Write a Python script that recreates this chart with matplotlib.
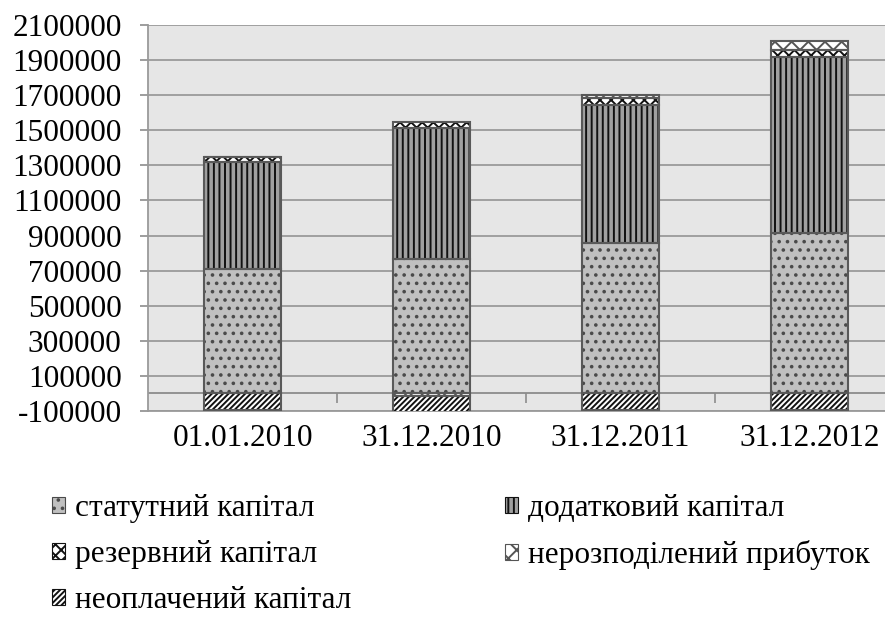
import numpy as np
import matplotlib
matplotlib.use("Agg")
import matplotlib.pyplot as plt
from matplotlib.patches import Patch

plt.rcParams['font.family'] = ['Liberation Serif', 'DejaVu Serif']
plt.rcParams['hatch.linewidth'] = 1.4

categories = ['01.01.2010', '31.12.2010', '31.12.2011', '31.12.2012']
statutory = [710000, 765000, 855000, 915000]
additional = [610000, 750000, 790000, 1000000]
reserve = [30000, 30000, 40000, 40000]
retained = [0, -15000, 15000, 55000]
unpaid = [-95000, -110000, -95000, -95000]

series_labels = ['статутний капітал', 'додатковий капітал', 'резервний капітал',
                 'нерозподілений прибуток', 'неоплачений капітал']
series = [statutory, additional, reserve, retained, unpaid]
styles = [
    dict(face='#c0c0c0', hcol='#4a4a4a', hatch='..'),
    dict(face='#a0a0a0', hcol='#111111', hatch='|||'),
    dict(face='#ffffff', hcol='#111111', hatch='xxx'),
    dict(face='#ffffff', hcol='#555555', hatch='xx'),
    dict(face='#ffffff', hcol='#111111', hatch='//////'),
]

W, H = 885, 619
fig = plt.figure(figsize=(W / 100, H / 100), dpi=100)
ax = fig.add_axes([148 / W, (H - 411) / H, (904 - 148) / W, (411 - 25) / H])
ax.set_facecolor('#e6e6e6')

x = np.arange(len(categories))
width = 0.41
pos_base = np.zeros(len(categories))
neg_base = np.zeros(len(categories))
edge = '#595959'
for vals, st in zip(series, styles):
    v = np.array(vals, dtype=float)
    bottoms = np.where(v >= 0, pos_base, neg_base)
    ax.bar(x, v, width, bottom=bottoms, color=st['face'], edgecolor=st['hcol'],
           hatch=st['hatch'], linewidth=0, zorder=3)
    ax.bar(x, v, width, bottom=bottoms, fill=False, edgecolor=edge,
           linewidth=1.5, zorder=4)
    pos_base = pos_base + np.where(v > 0, v, 0)
    neg_base = neg_base + np.where(v < 0, v, 0)

ax.set_xlim(-0.5, len(categories) - 0.5)
ax.set_ylim(-100000, 2100000)
ax.set_yticks(np.arange(-100000, 2100001, 200000))
ax.set_yticklabels([str(v) for v in range(-100000, 2100001, 200000)])
ax.yaxis.grid(True, color='#9a9a9a', linewidth=1.3, zorder=0)
ax.set_axisbelow(True)
ax.axhline(0, color='#8c8c8c', linewidth=1.3, zorder=2)
ax.vlines(x[:-1] + 0.5, -57000, 0, color='#8c8c8c', linewidth=1.2, zorder=2)

ax.set_xticks(x)
ax.set_xticklabels(categories)
ax.tick_params(axis='x', length=0, pad=9, labelsize=22.5, colors='black')
ax.tick_params(axis='y', length=6, width=1.2, color='#8c8c8c', pad=13,
               labelsize=22.5)
for s in ['top', 'right']:
    ax.spines[s].set_visible(False)
ax.spines['left'].set_color('#9a9a9a')
ax.spines['left'].set_linewidth(1.3)
ax.spines['bottom'].set_color('#9a9a9a')
ax.spines['bottom'].set_linewidth(1.3)

handles = [Patch(facecolor=st['face'], edgecolor=st['hcol'], hatch=st['hatch'],
                 linewidth=0.8) for st in styles]
# legend fills column-major: reorder so the reading order is row-major
order = [0, 2, 4, 1, 3]
leg = fig.legend([handles[i] for i in order], [series_labels[i] for i in order],
                 ncol=2, loc='upper left',
                 bbox_to_anchor=(52 / W, 1 - 494 / H), frameon=False,
                 fontsize=22.5, handlelength=0.42, handleheight=0.42,
                 handletextpad=0.32, columnspacing=4.9, labelspacing=0.54,
                 borderpad=0, borderaxespad=0)

fig.savefig('out.png', dpi=100)
